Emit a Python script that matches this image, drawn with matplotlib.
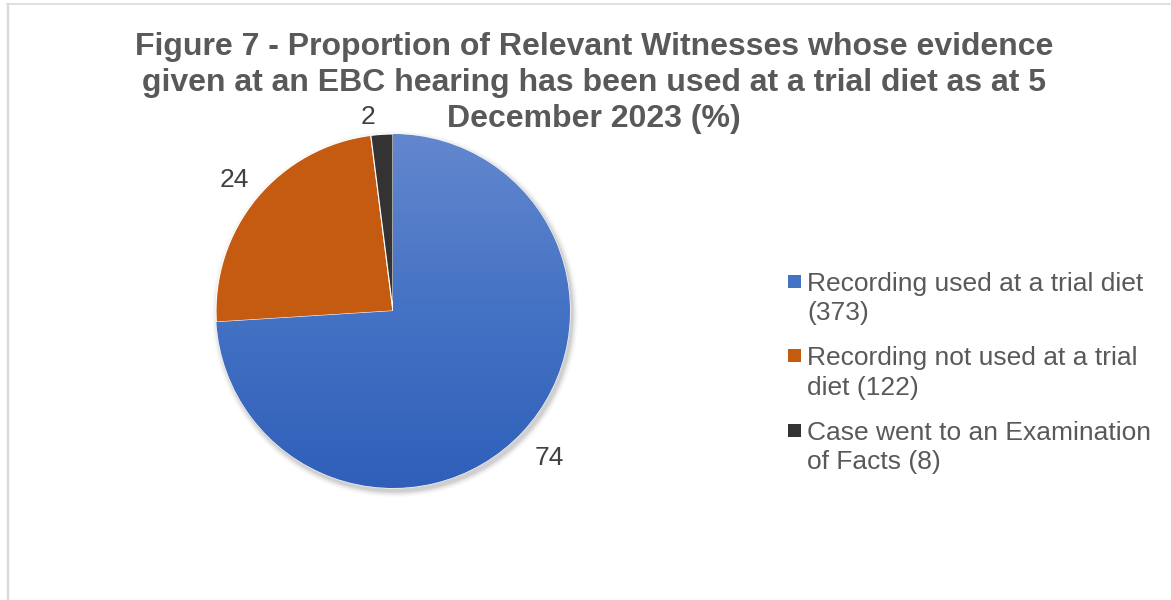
import numpy as np
import matplotlib
matplotlib.use("Agg")
import matplotlib.pyplot as plt
from matplotlib.patches import Rectangle, Circle
from matplotlib.lines import Line2D
from matplotlib.colors import LinearSegmentedColormap

plt.rcParams['font.family'] = ['Liberation Sans', 'DejaVu Sans']

# Data
categories = [
    "Recording used at a trial diet\n(373)",
    "Recording not used at a trial\ndiet (122)",
    "Case went to an Examination\nof Facts (8)",
]
percentages = [74, 24, 2]
colors = ["#4472C4", "#C55A11", "#333333"]
title_lines = [
    "Figure 7 - Proportion of Relevant Witnesses whose evidence",
    "given at an EBC hearing has been used at a trial diet as at 5",
    "December 2023 (%)",
]

W, H = 1171, 600
fig = plt.figure(figsize=(W / 100, H / 100), dpi=100)
fig.patch.set_facecolor("white")

# Chart area border (top and left edges)
fig.add_artist(Line2D([7.5 / W, 7.5 / W], [0, 1 - 3.5 / H], color="#D9D9D9", lw=1.6))
fig.add_artist(Line2D([7 / W, 1], [1 - 3.5 / H, 1 - 3.5 / H], color="#D9D9D9", lw=1.2))

# Pie axes: centre (393, 311) px, radius 177 px
cx, cy, R = 393, 311, 177
lim = 1.25
size = 2 * lim * R
ax = fig.add_axes([(cx - size / 2) / W, (H - cy - size / 2) / H, size / W, size / H])
ax.set_xlim(-lim, lim)
ax.set_ylim(-lim, lim)
ax.set_aspect("equal")
ax.axis("off")

# soft shadow
for i, a in enumerate(np.linspace(0.05, 0.012, 6)):
    ax.add_patch(Circle((0.012, -0.018), 1.0 + 0.006 * (i + 1), color="black",
                        alpha=a, lw=0, zorder=0))

wedges, _ = ax.pie(percentages, colors=colors, startangle=90, counterclock=False,
                   radius=1.0, wedgeprops=dict(linewidth=0.8, edgecolor="white"))
for w in wedges:
    w.set_zorder(2)

# vertical gradient on the large wedge
grad = LinearSegmentedColormap.from_list("g", ["#2F5FB9", "#4472C4", "#6387CE"])
img = ax.imshow(np.linspace(0, 1, 256).reshape(-1, 1), cmap=grad, origin="lower",
                extent=[-1, 1, -1, 1], aspect="auto", zorder=3)
img.set_clip_path(wedges[0])
ax.set_xlim(-lim, lim)
ax.set_ylim(-lim, lim)

# data labels (distance from centre in radii, horizontal nudge in px)
label_dist = [1.21, 1.16, 1.10]
label_dx = [0, 0, -13]
for w, p, d, dx in zip(wedges, percentages, label_dist, label_dx):
    ang = np.deg2rad((w.theta1 + w.theta2) / 2)
    ax.annotate(f"{p}", (d * np.cos(ang), d * np.sin(ang)), xytext=(dx * 0.72, 0),
                textcoords="offset points", ha="center", va="center",
                fontsize=19, color="#404040", zorder=5)

# title, one line at a time
for i, line in enumerate(title_lines):
    fig.text(594 / W, 1 - (47.5 + 36 * i) / H, line, ha="center", va="center",
             fontsize=23, fontweight="bold", color="#595959")

# legend
leg_x, leg_y0, step = 794, 281, 74.5
for i, (lab, col) in enumerate(zip(categories, colors)):
    y = leg_y0 + i * step
    fig.add_artist(Rectangle(((leg_x - 6.5) / W, 1 - (y + 6.5) / H), 13 / W, 13 / H,
                             facecolor=col, edgecolor="none"))
    fig.text(807 / W, 1 - (y - 9.5) / H, lab, ha="left", va="top",
             fontsize=19, color="#595959", linespacing=1.3)

fig.savefig("out.png", dpi=100)
